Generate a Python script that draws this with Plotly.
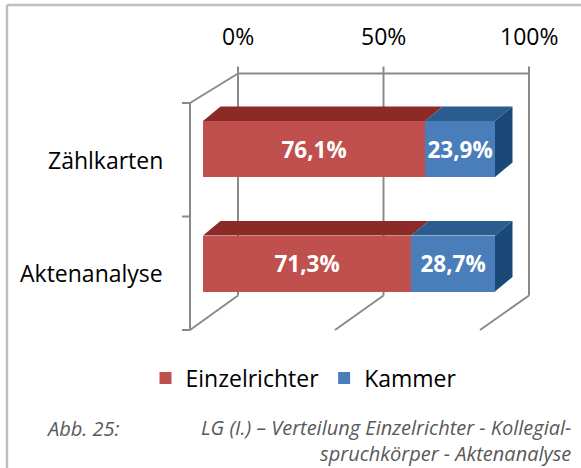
import plotly.graph_objects as go

# ---------------- data ----------------
categories = ["Zählkarten", "Aktenanalyse"]
series_names = ["Einzelrichter", "Kammer"]
einzelrichter = [76.1, 71.3]
kammer = [23.9, 28.7]
x_ticks = [0, 50, 100]
x_tick_labels = ["0%", "50%", "100%"]
caption_label = "Abb. 25:"
caption_line1 = "LG (I.) – Verteilung Einzelrichter - Kollegial-"
caption_line2 = "spruchkörper - Aktenanalyse"

# ---------------- style / geometry ----------------
W, H = 581, 468
FONT = "Open Sans"
front_cols = ["#c0504d", "#4a7ebb"]
top_cols = ["#8c2a27", "#2b5c90"]
side_cols = ["#8c2a27", "#1b4977"]
GRID = "#8a8a8a"

# axis mapping (bar front plane) in pixels
XPX0, XPX_PER = 203.0, 2.92       # px of 0 %, px per percent
YPX0, YPX_PER = 263.5, 114.5      # px of bottom category centre, px per category


def to_x(px):
    return (px - XPX0) / XPX_PER


def to_y(py):
    return (YPX0 - py) / YPX_PER


# wall planes (pixel geometry of the 3-D box)
FRONT = dict(x0=190.0, xs=2.90, yc0=273.25, ys=113.5)
BACK = dict(x0=238.0, xs=2.91, yc0=240.0, ys=111.0)


def wall(pct, c, plane):
    return to_x(plane["x0"] + plane["xs"] * pct), to_y(plane["yc0"] - plane["ys"] * c)


BAR_W = 56 / YPX_PER
DDX, DDY = 17.5 / XPX_PER, 14.5 / YPX_PER   # bar depth

n = len(categories)
ypos = [n - 1 - i for i in range(n)]
values = [einzelrichter, kammer]

fig = go.Figure()
for s, name in enumerate(series_names):
    fig.add_trace(go.Bar(
        y=ypos, x=values[s], orientation="h", name=name, width=BAR_W,
        marker=dict(color=front_cols[s], line=dict(width=0)),
        texttemplate="<b>%{x:.1f}%</b>", textposition="inside",
        insidetextanchor="middle", constraintext="none", textangle=0,
        textfont=dict(family=FONT, size=22.5, color="white"),
        hoverinfo="skip",
    ))

shapes = []
line = dict(color=GRID, width=2)
c_bot, c_top = -0.5, n - 0.5

# front (left) axis line + ticks
xa, ya = wall(0, c_bot, FRONT)
xb, yb = wall(0, c_top, FRONT)
shapes.append(dict(type="line", xref="x", yref="y", x0=xa, y0=ya, x1=xb, y1=yb, line=line, layer="below"))
for k in range(n + 1):
    c = c_bot + k
    x1, y1 = wall(0, c, FRONT)
    shapes.append(dict(type="line", xref="x", yref="y", x0=x1 - 8 / XPX_PER, y0=y1, x1=x1, y1=y1,
                       line=line, layer="below"))
# left wall top diagonal
x1, y1 = wall(0, c_top, FRONT)
x2, y2 = wall(0, c_top, BACK)
shapes.append(dict(type="line", xref="x", yref="y", x0=x1, y0=y1, x1=x2, y1=y2, line=line, layer="below"))
# floor lines and back wall verticals
for t in x_ticks:
    x1, y1 = wall(t, c_bot, FRONT)
    x2, y2 = wall(t, c_bot, BACK)
    shapes.append(dict(type="line", xref="x", yref="y", x0=x1, y0=y1, x1=x2, y1=y2, line=line, layer="below"))
    x3, y3 = wall(t, c_top, BACK)
    shapes.append(dict(type="line", xref="x", yref="y", x0=x2, y0=y2, x1=x3, y1=y3 + 7 / YPX_PER,
                       line=line, layer="below"))
# back wall top edge
x1, y1 = wall(x_ticks[0], c_top, BACK)
x2, y2 = wall(x_ticks[-1], c_top, BACK)
shapes.append(dict(type="line", xref="x", yref="y", x0=x1, y0=y1, x1=x2, y1=y2, line=line, layer="below"))

# 3-D faces of the bars
for i in range(n):
    left = 0.0
    yt = ypos[i] + BAR_W / 2
    ybt = ypos[i] - BAR_W / 2
    for s in range(len(series_names)):
        right = left + values[s][i]
        path = (f"M{left},{yt} L{right},{yt} L{right + DDX},{yt + DDY} "
                f"L{left + DDX},{yt + DDY} Z")
        shapes.append(dict(type="path", xref="x", yref="y", path=path,
                           fillcolor=top_cols[s], line=dict(width=0), layer="above"))
        if s == len(series_names) - 1:
            path = (f"M{right},{ybt} L{right},{yt} L{right + DDX},{yt + DDY} "
                    f"L{right + DDX},{ybt + DDY} Z")
            shapes.append(dict(type="path", xref="x", yref="y", path=path,
                               fillcolor=side_cols[s], line=dict(width=0), layer="above"))
        left = right

# outer frame (cropped at right/bottom)
frame = dict(color="#bfbfbf", width=2.5)
shapes.append(dict(type="line", xref="paper", yref="paper", x0=7 / W, x1=7 / W, y0=0, y1=1 - 5 / H, line=frame))
shapes.append(dict(type="line", xref="paper", yref="paper", x0=7 / W, x1=1, y0=1 - 5 / H, y1=1 - 5 / H, line=frame))

annotations = []
# top tick labels on the back wall
for t, lab in zip(x_ticks, x_tick_labels):
    x1, y1 = wall(t, c_top, BACK)
    annotations.append(dict(x=x1, y=y1, xref="x", yref="y", text=lab, showarrow=False,
                            yshift=38, xanchor="center", yanchor="middle",
                            font=dict(family=FONT, size=23, color="black")))
# category labels on the front wall
for i, cat in enumerate(categories):
    x1, y1 = wall(0, ypos[i], FRONT)
    annotations.append(dict(x=x1, y=y1, xref="x", yref="y", text=cat, showarrow=False,
                            xshift=-25, xanchor="right", yanchor="middle",
                            font=dict(family=FONT, size=23, color="black")))
# caption
cap_font = dict(family=FONT, size=20, color="#595959")
annotations.append(dict(x=45 / W, y=1 - 428 / H, xref="paper", yref="paper", text=f"<i>{caption_label}</i>",
                        showarrow=False, xanchor="left", yanchor="middle", font=cap_font, borderpad=0))
annotations.append(dict(x=572 / W, y=1 - 440 / H, xref="paper", yref="paper",
                        text=f"<i>{caption_line1}</i><br><i>{caption_line2}</i>", align="right",
                        showarrow=False, xanchor="right", yanchor="middle", font=cap_font, borderpad=0))

fig.update_layout(
    width=W, height=H, autosize=False,
    margin=dict(l=0, r=0, t=0, b=0),
    paper_bgcolor="white", plot_bgcolor="white",
    barmode="stack", separators=",.",
    showlegend=True,
    legend=dict(orientation="h", x=304 / W, y=1 - 378 / H, xanchor="center", yanchor="middle",
                font=dict(family=FONT, size=23, color="black"), itemwidth=30,
                bgcolor="rgba(0,0,0,0)", traceorder="normal"),
    xaxis=dict(range=[to_x(0), to_x(W)], visible=False, fixedrange=True),
    yaxis=dict(range=[to_y(H), to_y(0)], visible=False, fixedrange=True),
    shapes=shapes, annotations=annotations,
    font=dict(family=FONT),
)

fig.write_html("out.html", config={"displayModeBar": False},
               post_script="document.body.style.margin='0px';")
